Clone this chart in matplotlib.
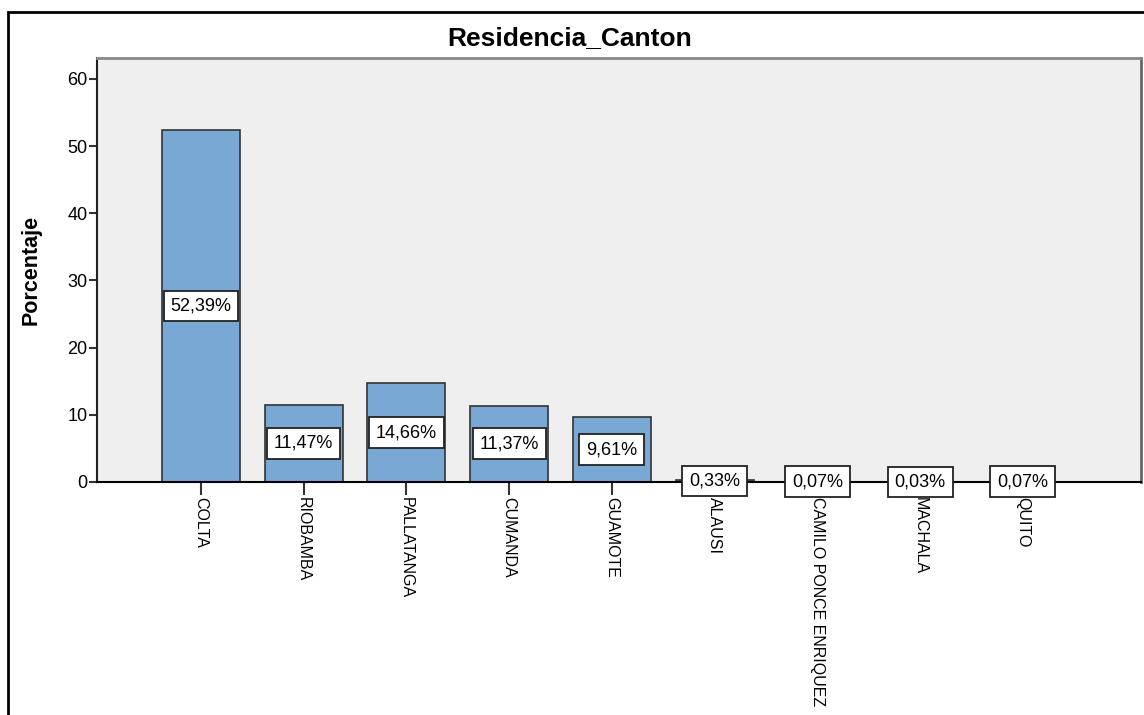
import numpy as np
import matplotlib.pyplot as plt
from matplotlib.patches import Rectangle

plt.rcParams['font.family'] = ['Liberation Sans', 'DejaVu Sans']

cantones = ["COLTA", "RIOBAMBA", "PALLATANGA", "CUMANDA", "GUAMOTE",
            "ALAUSI", "CAMILO PONCE ENRIQUEZ", "MACHALA", "QUITO"]
porcentaje = [52.39, 11.47, 14.66, 11.37, 9.61, 0.33, 0.07, 0.03, 0.07]
etiquetas = ["52,39%", "11,47%", "14,66%", "11,37%", "9,61%",
             "0,33%", "0,07%", "0,03%", "0,07%"]

fig = plt.figure(figsize=(11.44, 7.15), dpi=100)

# outer frame like SPSS output
fig.patches.append(Rectangle((8 / 1144, -0.1), 1.2, 1 - 12 / 715 + 0.1,
                             transform=fig.transFigure, fill=False,
                             edgecolor='black', lw=2))

ax = fig.add_axes([97 / 1144, 1 - 482 / 715, (1141 - 97) / 1144, (482 - 58) / 715])
ax.set_facecolor('#efefef')

x = np.arange(len(cantones))
ax.bar(x, porcentaje, width=0.76, color='#7aa8d5', edgecolor='#333333', lw=1.2, zorder=2)

for xi, v, lab in zip(x, porcentaje, etiquetas):
    ax.text(xi, v / 2, lab, ha='center', va='center', fontsize=13, zorder=4,
            clip_on=False,
            bbox=dict(boxstyle='square,pad=0.38', fc='white', ec='#222222', lw=1.3))

ax.set_xlim(-1.012, 9.15)
ax.set_ylim(0, 63.1)
ax.set_yticks([0, 10, 20, 30, 40, 50, 60])
ax.set_xticks(x)
ax.set_xticklabels(cantones, rotation=-90, fontsize=11.5)
ax.tick_params(axis='y', labelsize=13, length=6, width=1.5, color='#333333', pad=1)
ax.tick_params(axis='x', length=9, width=1.5, color='#333333', pad=2)

ax.spines['left'].set_color('#222222')
ax.spines['left'].set_linewidth(1.5)
ax.spines['bottom'].set_color('black')
ax.spines['bottom'].set_linewidth(1.5)
ax.spines['bottom'].set_zorder(3)
ax.spines['top'].set_color('#888888')
ax.spines['top'].set_linewidth(2)
ax.spines['right'].set_color('#666666')
ax.spines['right'].set_linewidth(2)

ax.set_ylabel("Porcentaje", fontsize=15.5, fontweight='bold', labelpad=18)
fig.text(570 / 1144, 1 - 38 / 715, "Residencia_Canton", ha='center', va='center',
         fontsize=19, fontweight='bold')

fig.savefig("out.png", dpi=100)
